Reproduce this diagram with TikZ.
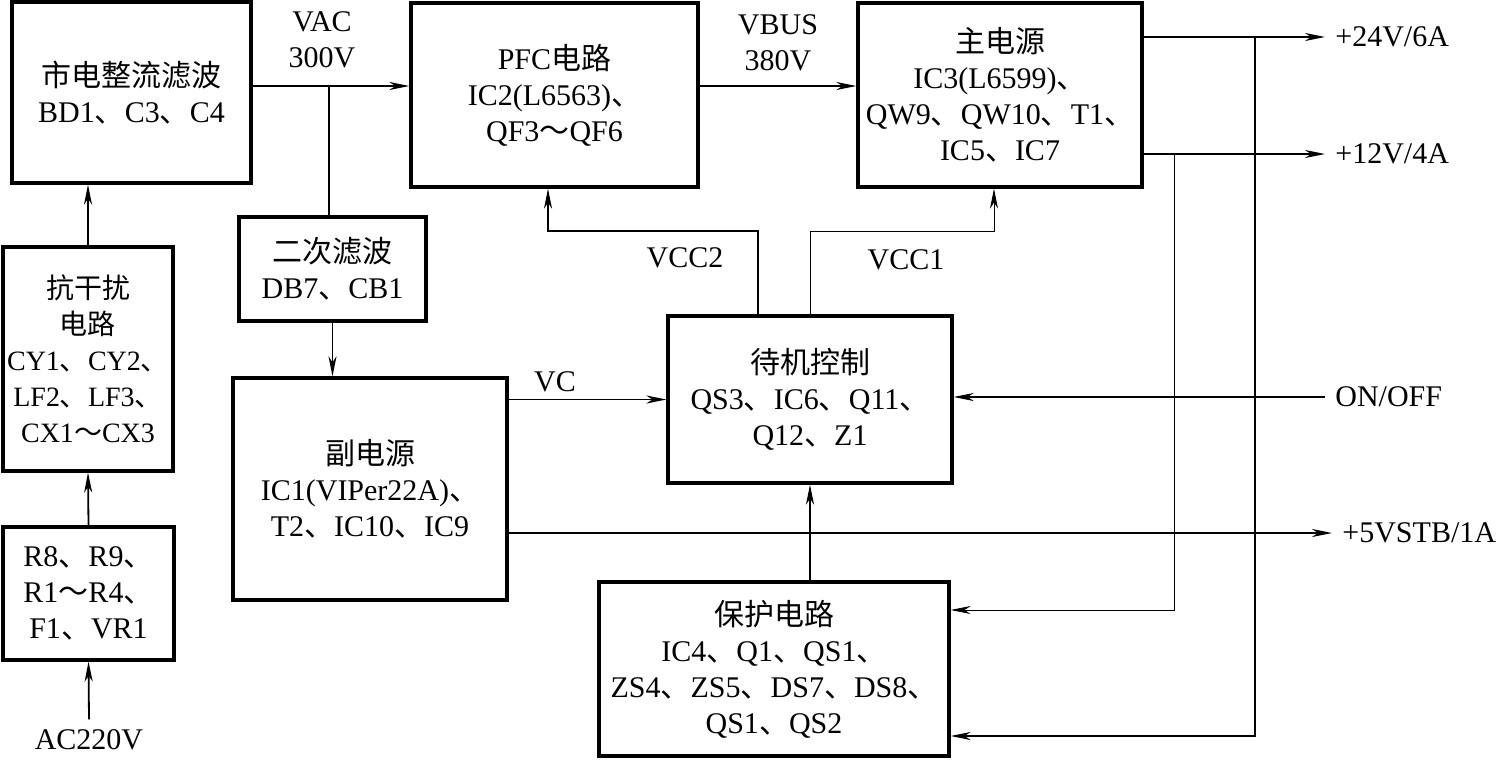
\documentclass[tikz,border=0pt]{standalone}
\usepackage{fontspec}
\setmainfont{Liberation Serif}
\newfontfamily\cjk{Noto Sans CJK SC}
\newcommand{\zh}[1]{{\cjk #1}}
\usetikzlibrary{positioning}
\usetikzlibrary{arrows.meta}
\tikzset{
        blocknode/.style={align=center,inner sep=0pt},
        % Circuit blocks
        node_block/.style={blocknode, rectangle, draw=black, line width=1.6pt, font=\fontsize{15}{18}\selectfont},
        % Signal labels
        node_label/.style={blocknode, font=\fontsize{15}{18}\selectfont},
        % Output labels
        node_out/.style={blocknode, anchor=west, inner xsep=5pt, font=\fontsize{15}{18}\selectfont},
        % Connectors
        wire/.style={line width=0.9pt},
        thinwire/.style={line width=0.5pt}
}

\begin{document}
\begin{tikzpicture}[
            x=0.5pt, y=-0.5pt,
            >={Stealth[length=10pt,width=4pt,inset=3pt]}
        ]
            \useasboundingbox (0,0) rectangle (1506,760);
            % blocks
            \node[node_block, minimum width=119.5pt, minimum height=90.5pt] (mains) at (131.5,92.5)
                {\zh{市电整流滤波}\\BD1\zh{、}C3\zh{、}C4};
            \node[node_block, minimum width=85pt, minimum height=112pt, font=\fontsize{14}{18}\selectfont] (emi) at (88,359)
                {\zh{抗干扰}\\\zh{电路}\\CY1\zh{、}CY2\zh{、}\\LF2\zh{、}LF3\zh{、}\\CX1\zh{～}CX3};
            \node[node_block, minimum width=85.5pt, minimum height=66.5pt] (fuse) at (88.5,593.5)
                {R8\zh{、}R9\zh{、}\\R1\zh{～}R4\zh{、}\\F1\zh{、}VR1};
            \node[node_block, minimum width=143.5pt, minimum height=92pt] (pfc) at (554.5,95)
                {PFC\zh{电路}\\IC2(L6563)\zh{、}\\QF3\zh{～}QF6};
            \node[node_block, minimum width=142pt, minimum height=92pt] (main) at (1000,95)
                {\zh{主电源}\\IC3(L6599)\zh{、}\\QW9\zh{、}QW10\zh{、}T1\zh{、}\\IC5\zh{、}IC7};
            \node[node_block, minimum width=93.5pt, minimum height=52pt] (filter2) at (332.5,269)
                {\zh{二次滤波}\\DB7\zh{、}CB1};
            \node[node_block, minimum width=137pt, minimum height=111pt] (aux) at (370,489)
                {\zh{副电源}\\IC1(VIPer22A)\zh{、}\\T2\zh{、}IC10\zh{、}IC9};
            \node[node_block, minimum width=142pt, minimum height=83.5pt] (standby) at (810,399.5)
                {\zh{待机控制}\\QS3\zh{、}IC6\zh{、}Q11\zh{、}\\Q12\zh{、}Z1};
            \node[node_block, minimum width=175pt, minimum height=87pt] (protect) at (774,669)
                {\zh{保护电路}\\IC4\zh{、}Q1\zh{、}QS1\zh{、}\\ZS4\zh{、}ZS5\zh{、}DS7\zh{、}DS8\zh{、}\\QS1\zh{、}QS2};
            % labels
            \node[node_label] (vac) at (322,40) {VAC\\300V};
            \node[node_label] (vbus) at (778,43) {VBUS\\380V};
            \node[node_label] (vcc2) at (685,258) {VCC2};
            \node[node_label] (vcc1) at (906,260) {VCC1};
            \node[node_label] (vc) at (555,382) {VC};
            \node[node_label, inner ysep=5pt] (ac) at (89,740) {AC220V};
            \node[node_out] (out24) at (1325,37) {+24V/6A};
            \node[node_out] (out12) at (1325,154) {+12V/4A};
            \node[node_out] (onoff) at (1325,397) {ON/OFF};
            \node[node_out] (stb) at (1332,533) {+5VSTB/1A};
            % junctions
            \coordinate (jvac) at (329,86);
            \coordinate (jvcc2) at (758,231);
            \coordinate (kvcc2) at (548,231);
            \coordinate (kvcc1) at (994,231);
            \coordinate (j24) at (1255,736);
            \coordinate (j12) at (1174,610);
            % connectors
            \draw[wire,->] (ac.north) -- (fuse.south);
            \draw[wire,->] (fuse.north) -- (emi.south);
            \draw[wire,->] (emi.north) -- (emi.north |- mains.south);
            \draw[wire,->] (jvac -| mains.east) -- (jvac -| pfc.west);
            \draw[wire] (jvac) -- (jvac |- filter2.north);
            \draw[wire,->] (filter2.south) -- (filter2.south |- aux.north);
            \draw[wire,->] (jvac -| pfc.east) -- (jvac -| main.west);
            \draw[wire,->] (standby.west -| aux.east) -- (standby.west);
            \draw[wire,->] (onoff.west) -- (onoff.west -| standby.east);
            \draw[wire,->] (stb.west -| aux.east) -- (stb.west);
            \draw[wire,->] (out24.west -| main.east) -- (out24.west);
            \draw[wire,->] (out12.west -| main.east) -- (out12.west);
            \draw[wire,->] (j24 |- out24.west) -- (j24) -- (j24 -| protect.east);
            \draw[thinwire,->] (j12 |- out12.west) -- (j12) -- (j12 -| protect.east);
            \draw[wire,->] (protect.north -| standby.south) -- (standby.south);
            \draw[wire,->] (standby.north -| jvcc2) -- (jvcc2) -- (kvcc2) -- (kvcc2 |- pfc.south);
            \draw[thinwire,->] (standby.north) |- (kvcc1) -- (kvcc1 |- main.south);
        \end{tikzpicture}
\end{document}
